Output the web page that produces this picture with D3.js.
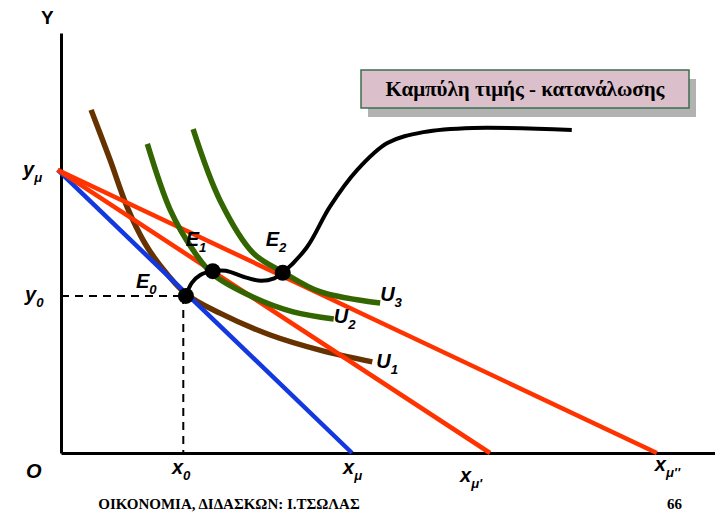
<!DOCTYPE html>
<html>
<head>
<meta charset="utf-8">
<script src="https://cdn.jsdelivr.net/npm/d3@7"></script>
<style>
  body { margin: 0; background: #ffffff; }
  svg { display: block; }
  .lbl { font-family: "Liberation Sans", Arial, sans-serif; font-weight: bold; font-style: italic; fill: #000; }
  .serif { font-family: "Liberation Serif", "Times New Roman", serif; font-weight: bold; fill: #000; }
</style>
</head>
<body>
<div id="chart"></div>
<script>
// ---------------------------------------------
// Price-consumption curve (Καμπύλη τιμής - κατανάλωσης)
// ---------------------------------------------

// budget lines: common y intercept, x intercepts for the three prices
const budgetYIntercept = 66.7;
const budgetXIntercepts = [44.5, 65.6, 91.1];
const budgetColors = ["#1438e0", "#ff3300", "#ff3300"];

// indifference curves
const curveU1 = [[4.6, 81.7], [7.5, 69.8], [10.1, 58.6], [12.8, 50.0], [15.1, 44.8],
                 [19.1, 37.9], [24.3, 33.3], [32.0, 28.1], [39.6, 24.5], [47.6, 21.7]];
const curveU2 = [[13.2, 73.6], [16.7, 57.9], [20.2, 48.3], [23.2, 42.6],
                 [29.4, 37.1], [35.5, 33.6], [41.7, 31.9]];
const curveU3 = [[20.2, 77.1], [24.3, 60.2], [29.4, 47.6], [33.9, 43.1],
                 [39.6, 38.4], [48.8, 35.7]];

// price-consumption curve
const pccPoints = [[19.1, 37.4], [20.0, 40.5], [21.3, 42.4], [23.2, 43.3], [25.2, 43.4],
                   [28.0, 41.9], [30.6, 41.0], [32.6, 41.6], [33.9, 42.9], [37.6, 49.0],
                   [41.1, 58.6], [45.3, 67.4], [49.9, 73.8], [55.4, 76.4], [63.0, 77.4],
                   [78.1, 76.9]];

// equilibrium points
const equilibria = [
  { name: "E", sub: "0", x: 19.1, y: 37.4 },
  { name: "E", sub: "1", x: 23.2, y: 43.3 },
  { name: "E", sub: "2", x: 33.9, y: 42.9 }
];

const curveLabels = [
  { name: "U", sub: "1" },
  { name: "U", sub: "2" },
  { name: "U", sub: "3" }
];

// x-axis tick labels: x0, xμ, xμ', xμ''
const xTickSubs = ["0", "μ", "μ'", "μ''"];

const titleText = "Καμπύλη τιμής - κατανάλωσης";
const footerText = "ΟΙΚΟΝΟΜΙΑ, ΔΙΔΑΣΚΩΝ: Ι.ΤΣΩΛΑΣ";
const pageNumber = "66";

const width = 715;
const height = 516;
const margin = { top: 33, left: 61, bottom: 63 };

const svg = d3.select("#chart").append("svg")
  .attr("width", width)
  .attr("height", height);

const x = d3.scaleLinear().domain([0, 100]).range([margin.left, width]);
const y = d3.scaleLinear().domain([0, 100]).range([height - margin.bottom, margin.top]);

const line = d3.line().x(d => x(d[0])).y(d => y(d[1]));
const smooth = d3.line().x(d => x(d[0])).y(d => y(d[1])).curve(d3.curveCatmullRom.alpha(0.5));

// ------------------
// Axes (plain lines)
// ------------------
svg.append("g")
  .attr("transform", `translate(0,${y(0)})`)
  .call(d3.axisBottom(x).tickValues([]).tickSizeOuter(0))
  .select(".domain").attr("stroke", "#000").attr("stroke-width", 3);

svg.append("g")
  .attr("transform", `translate(${x(0)},0)`)
  .call(d3.axisLeft(y).tickValues([]).tickSizeOuter(0))
  .select(".domain").attr("stroke", "#000").attr("stroke-width", 3);

// ------------------
// Curves
// ------------------
svg.append("path")
  .attr("d", smooth(curveU1))
  .attr("fill", "none").attr("stroke", "#663300").attr("stroke-width", 5.5);

budgetXIntercepts.forEach((xi, i) => {
  svg.append("path")
    .attr("d", line([[-0.5, budgetYIntercept + 0.7], [xi, 0]]))
    .attr("fill", "none")
    .attr("stroke", budgetColors[i])
    .attr("stroke-width", 4.5);
});

[curveU2, curveU3].forEach(c => {
  svg.append("path")
    .attr("d", smooth(c))
    .attr("fill", "none").attr("stroke", "#336600").attr("stroke-width", 5.5);
});

// dashed guides to E0
const e0 = equilibria[0];
svg.append("path")
  .attr("d", line([[0, e0.y], [e0.x, e0.y]]))
  .attr("stroke", "#000").attr("stroke-width", 2).attr("stroke-dasharray", "8,6");
svg.append("path")
  .attr("d", line([[e0.x - 0.4, e0.y], [e0.x - 0.4, 0]]))
  .attr("stroke", "#000").attr("stroke-width", 2).attr("stroke-dasharray", "8,6");

svg.append("path")
  .attr("d", smooth(pccPoints))
  .attr("fill", "none").attr("stroke", "#000").attr("stroke-width", 4);

svg.selectAll(".eq")
  .data(equilibria)
  .enter()
  .append("circle")
  .attr("class", "eq")
  .attr("cx", d => x(d.x))
  .attr("cy", d => y(d.y))
  .attr("r", 8)
  .attr("fill", "#000");

// ------------------
// Labels
// ------------------
function subLabel(px, py, main, sub, size) {
  const t = svg.append("text").attr("class", "lbl")
    .attr("x", px).attr("y", py).style("font-size", size + "px");
  t.append("tspan").text(main);
  t.append("tspan").attr("dy", size * 0.3).style("font-size", (size * 0.66) + "px").text(sub);
  return t;
}

svg.append("text").attr("class", "lbl").style("font-style", "normal")
  .attr("x", 41).attr("y", 24).style("font-size", "19px").text("Y");
svg.append("text").attr("class", "lbl")
  .attr("x", 26).attr("y", y(0) + 25).style("font-size", "20px").text("O");

subLabel(23, y(budgetYIntercept) + 3, "y", "μ", 20);
subLabel(25, y(e0.y) + 5, "y", "0", 20);

const xTickPos = [e0.x, ...budgetXIntercepts];
const xTickOff = [[-14, 21], [-9, 21], [-30, 29], [-2, 18]];
xTickPos.forEach((v, i) => {
  subLabel(x(v) + xTickOff[i][0], y(0) + xTickOff[i][1], "x", xTickSubs[i], 20);
});

const eOffsets = [[-50, -8], [-27, -25], [-17, -27]];
equilibria.forEach((d, i) => {
  subLabel(x(d.x) + eOffsets[i][0], y(d.y) + eOffsets[i][1], d.name, d.sub, 20);
});

[curveU1, curveU2, curveU3].forEach((c, i) => {
  const end = c[c.length - 1];
  const off = [[4, 6], [0, 4], [0, -2]][i];
  subLabel(x(end[0]) + off[0], y(end[1]) + off[1], curveLabels[i].name, curveLabels[i].sub, 20);
});

// ------------------
// Title box
// ------------------
const box = svg.append("g").attr("transform", "translate(361,70)");
box.append("rect").attr("x", 7).attr("y", 9).attr("width", 328).attr("height", 38).attr("fill", "#b2b2b2");
box.append("rect").attr("width", 328).attr("height", 38)
  .attr("fill", "#dbbfcb").attr("stroke", "#3d6e4e").attr("stroke-width", 1.5);
box.append("text").attr("class", "serif")
  .attr("x", 164).attr("y", 26).attr("text-anchor", "middle")
  .style("font-size", "21px").text(titleText);

// footer
svg.append("text").attr("class", "serif")
  .attr("x", 229).attr("y", 509).attr("text-anchor", "middle")
  .style("font-size", "15px").text(footerText);
svg.append("text").attr("class", "serif")
  .attr("x", 667).attr("y", 509)
  .style("font-size", "15px").text(pageNumber);
</script>
</body>
</html>
